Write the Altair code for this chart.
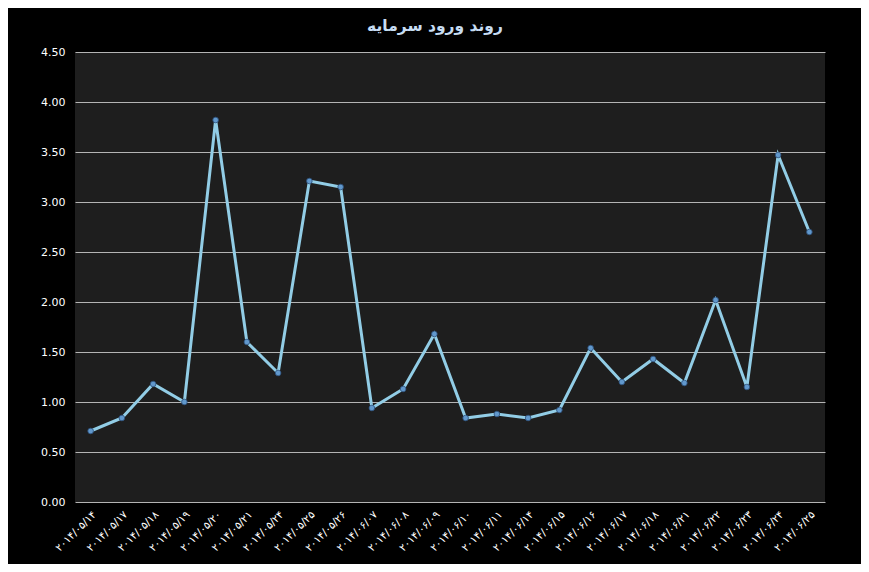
import altair as alt
import pandas as pd

dates = ["۲۰۱۴/۰۵/۱۴", "۲۰۱۴/۰۵/۱۷", "۲۰۱۴/۰۵/۱۸", "۲۰۱۴/۰۵/۱۹", "۲۰۱۴/۰۵/۲۰", "۲۰۱۴/۰۵/۲۱",
         "۲۰۱۴/۰۵/۲۴", "۲۰۱۴/۰۵/۲۵", "۲۰۱۴/۰۵/۲۶", "۲۰۱۴/۰۶/۰۷", "۲۰۱۴/۰۶/۰۸", "۲۰۱۴/۰۶/۰۹",
         "۲۰۱۴/۰۶/۱۰", "۲۰۱۴/۰۶/۱۱", "۲۰۱۴/۰۶/۱۴", "۲۰۱۴/۰۶/۱۵", "۲۰۱۴/۰۶/۱۶", "۲۰۱۴/۰۶/۱۷",
         "۲۰۱۴/۰۶/۱۸", "۲۰۱۴/۰۶/۲۱", "۲۰۱۴/۰۶/۲۲", "۲۰۱۴/۰۶/۲۳", "۲۰۱۴/۰۶/۲۴", "۲۰۱۴/۰۶/۲۵"]
values = [0.71, 0.84, 1.18, 1.00, 3.82, 1.60, 1.29, 3.21, 3.15, 0.94, 1.13, 1.68,
          0.84, 0.88, 0.84, 0.92, 1.54, 1.20, 1.43, 1.19, 2.02, 1.15, 3.47, 2.70]
y_ticks = [0, 0.5, 1.0, 1.5, 2.0, 2.5, 3.0, 3.5, 4.0, 4.5]

df = pd.DataFrame({"date": dates, "value": values})

x = alt.X("date:N", sort=dates, scale=alt.Scale(padding=0.5),
          axis=alt.Axis(title=None, labelAngle=-45, labelColor="#ffffff", labelFontSize=10.5,
                        labelFont="DejaVu Sans", ticks=False, domain=False, grid=False,
                        labelPadding=7, labelOverlap=False))
y = alt.Y("value:Q", scale=alt.Scale(domain=[0, 4.5], nice=False),
          axis=alt.Axis(title=None, values=y_ticks, format=".2f", labelColor="#ffffff",
                        labelFontSize=11, labelFont="DejaVu Sans", ticks=False, domain=False,
                        gridColor="#b4b4b4", gridWidth=1, gridOpacity=1, labelPadding=10))

line = alt.Chart(df).mark_line(color="#92cde6", strokeWidth=3).encode(x=x, y=y)
pts = alt.Chart(df).mark_point(filled=True, size=32, color="#6198cc", stroke="#2c4f7a",
                               strokeWidth=0.8, opacity=1).encode(x=x, y=y)

chart = (line + pts).properties(
    width=750, height=450,
    title=alt.TitleParams("روند ورود سرمایه", color="#c6dcf2", fontSize=15.5, font="DejaVu Sans",
                          fontWeight="bold", anchor="middle", dx=-15, offset=12),
    background="#000000",
    padding={"left": 67, "top": 44, "right": 36, "bottom": 62},
    autosize=alt.AutoSizeParams(type="none"),
).configure_view(fill="#1e1e1e", stroke=None)

chart.save("out.html", embed_options={"renderer": "svg", "actions": False})
